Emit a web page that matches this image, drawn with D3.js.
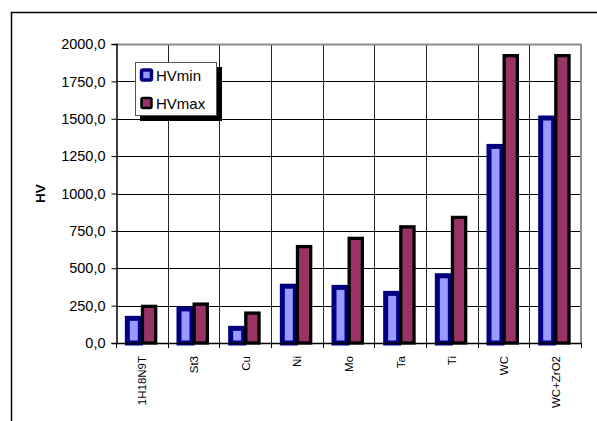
<!DOCTYPE html>
<html>
<head>
<meta charset="utf-8">
<script src="https://cdn.jsdelivr.net/npm/d3@7/dist/d3.min.js"></script>
<style>
  html, body { margin: 0; padding: 0; background: #fff; }
  svg { display: block; }
  text { font-family: "Liberation Sans", Arial, sans-serif; fill: #000; }
</style>
</head>
<body>
<svg id="chart" width="597" height="421"></svg>
<script>
// Vickers hardness per material
const categories = ["1H18N9T", "St3", "Cu", "Ni", "Mo", "Ta", "Ti", "WC", "WC+ZrO2"];
const hvMin = [165, 228, 98, 380, 372, 332, 450, 1315, 1505];
const hvMax = [245, 260, 200, 645, 700, 777, 840, 1922, 1922];
const seriesNames = ["HVmin", "HVmax"];
const yTicks = [0, 250, 500, 750, 1000, 1250, 1500, 1750, 2000];

const svg = d3.select("#chart");
const plot = { left: 116, top: 44, right: 581, bottom: 343 };

const x = d3.scaleBand().domain(categories).range([plot.left, plot.right]).padding(0);
const y = d3.scaleLinear().domain([0, 2000]).range([plot.bottom, plot.top]);
const fmt = v => d3.format(".1f")(v).replace(".", ",");

// chart frame
svg.append("rect")
  .attr("x", 11.5).attr("y", 12.5)
  .attr("width", 620).attr("height", 440)
  .attr("fill", "#fff").attr("stroke", "#000").attr("stroke-width", 1.5);

// plot background
svg.append("rect")
  .attr("x", plot.left).attr("y", plot.top)
  .attr("width", plot.right - plot.left).attr("height", plot.bottom - plot.top)
  .attr("fill", "#fff");

// horizontal gridlines
svg.append("g").selectAll("line").data(yTicks.slice(1))
  .join("line")
  .attr("x1", plot.left).attr("x2", plot.right)
  .attr("y1", d => Math.round(y(d)) + 0.5).attr("y2", d => Math.round(y(d)) + 0.5)
  .attr("stroke", "#000").attr("stroke-width", 1);

// vertical gridlines at category boundaries
svg.append("g").selectAll("line").data(categories.slice(1))
  .join("line")
  .attr("x1", d => Math.round(x(d)) + 0.5).attr("x2", d => Math.round(x(d)) + 0.5)
  .attr("y1", plot.top).attr("y2", plot.bottom)
  .attr("stroke", "#222").attr("stroke-width", 1);

// plot border (top / right)
svg.append("path")
  .attr("d", `M${plot.left},${plot.top + 0.5}H${plot.right}V${plot.bottom}`)
  .attr("fill", "none").attr("stroke", "#8c8c8c").attr("stroke-width", 2);

// bars
const bars = svg.append("g");
categories.forEach((c, i) => {
  const cx = x(c) + x.bandwidth() / 2;
  // HVmin: light blue with heavy navy border
  const sw1 = 5;
  bars.append("rect")
    .attr("x", cx - 17 + sw1 / 2)
    .attr("y", y(hvMin[i]))
    .attr("width", 18 - sw1)
    .attr("height", y(0) - y(hvMin[i]))
    .attr("fill", "#9999ff").attr("stroke", "#000080").attr("stroke-width", sw1);
  // HVmax: plum with black border
  const sw2 = 3.3;
  bars.append("rect")
    .attr("x", cx - 1 + sw2 / 2)
    .attr("y", y(hvMax[i]))
    .attr("width", 16.5 - sw2)
    .attr("height", y(0) - y(hvMax[i]))
    .attr("fill", "#993366").attr("stroke", "#000").attr("stroke-width", sw2);
});

// y axis
const yAxis = svg.append("g")
  .attr("transform", `translate(${plot.left + 0.5},0)`)
  .call(d3.axisLeft(y).tickValues(yTicks).tickFormat(fmt).tickSize(5).tickPadding(6));
yAxis.select(".domain").attr("stroke", "#000").attr("stroke-width", 1.5);
yAxis.selectAll(".tick line").attr("stroke", "#000");
yAxis.selectAll(".tick text")
  .attr("font-size", 14.5).attr("font-family", "Liberation Sans, Arial, sans-serif")
  .attr("fill", "#000");

// x axis
const xAxis = svg.append("g")
  .attr("transform", `translate(0,${plot.bottom})`)
  .call(d3.axisBottom(x).tickSize(0).tickFormat(""));
xAxis.select(".domain").attr("stroke", "#000").attr("stroke-width", 1.5);
xAxis.selectAll(".tick").remove();

// x tick marks at category boundaries
svg.append("g").selectAll("line")
  .data(categories.map(c => x(c)).concat([plot.right]))
  .join("line")
  .attr("x1", d => Math.round(d) + 0.5).attr("x2", d => Math.round(d) + 0.5)
  .attr("y1", plot.bottom).attr("y2", plot.bottom + 5)
  .attr("stroke", "#000");

// category labels (vertical)
svg.append("g").selectAll("text").data(categories)
  .join("text")
  .attr("transform", d => `translate(${x(d) + x.bandwidth() / 2 + 0.5},${plot.bottom + 13}) rotate(-90)`)
  .attr("text-anchor", "end")
  .attr("dy", "0.35em")
  .attr("font-size", 11.5)
  .text(d => d);

// y axis title
svg.append("text")
  .attr("transform", `translate(40.5,${(plot.top + plot.bottom) / 2}) rotate(-90)`)
  .attr("text-anchor", "middle")
  .attr("dy", "0.35em")
  .attr("font-size", 13.5).attr("font-weight", "bold")
  .text("HV");

// legend
const lg = svg.append("g").attr("transform", "translate(135,62)");
lg.append("rect").attr("x", 5).attr("y", 5).attr("width", 82).attr("height", 54).attr("fill", "#000");
lg.append("rect").attr("x", 0.5).attr("y", 0.5).attr("width", 81).attr("height", 53)
  .attr("fill", "#fff").attr("stroke", "#555").attr("stroke-width", 1);
const legendStyle = [
  { fill: "#9999ff", stroke: "#000080", sw: 3.5 },
  { fill: "#993366", stroke: "#000", sw: 2.5 }
];
seriesNames.forEach((name, i) => {
  const yy = 8 + i * 28;
  lg.append("rect")
    .attr("x", 6.5).attr("y", yy)
    .attr("width", 10).attr("height", 10).attr("rx", 1.5)
    .attr("fill", legendStyle[i].fill)
    .attr("stroke", legendStyle[i].stroke).attr("stroke-width", legendStyle[i].sw);
  lg.append("text")
    .attr("x", 21).attr("y", yy + 10.5)
    .attr("font-size", 15)
    .text(name);
});
</script>
</body>
</html>
